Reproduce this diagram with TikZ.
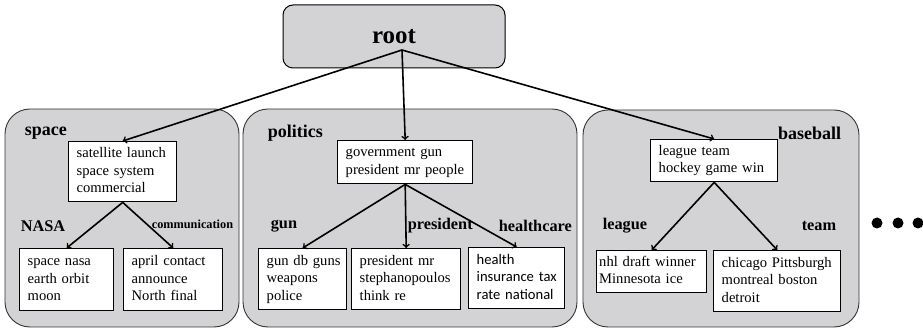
\documentclass[tikz,border=0pt]{standalone}
\usepackage{fontspec}
\setmainfont{Liberation Serif}
\newfontfamily\boxsans{Carlito}
\usetikzlibrary{arrows, positioning}

\definecolor{groupgray}{RGB}{211,210,212}
\newcommand{\wordlist}[1]{\begin{tabular}{@{}l@{}}#1\end{tabular}}

\begin{document}
\begin{tikzpicture}[x=1pt, y=-1pt, >=to, line width=1.6pt,
    group/.style={rounded corners=25pt, draw=black!80, fill=groupgray, line width=0.9pt},
    words/.style={rectangle, draw, fill=white, align=left, anchor=north west, inner xsep=8pt, inner ysep=0pt, line width=1.4pt, font=\fontsize{14.6}{17.5}\selectfont},
    tag/.style={anchor=west, inner sep=0pt, font=\bfseries\fontsize{18}{20}\selectfont},
    subtag/.style={tag, font=\bfseries\fontsize{16.3}{18}\selectfont}]
    \useasboundingbox (0,0) rectangle (923,328);

    % the three topic groups
    \draw [group] (5,109) rectangle (239,327);
    \draw [group] (243,109) rectangle (577,327);
    \draw [group] (583,110) rectangle (859,327);

    \node [rounded corners=10pt, draw, fill=groupgray, line width=1pt, minimum width=222pt, minimum height=63pt, font=\bfseries\fontsize{25}{28}\selectfont] (root) at (394,36.5) {root};
    \coordinate (rootc) at (402,50);

    % space
    \node [tag] (spacetag) at (24,133) {space};
    \node [words, text width=92pt, minimum height=60pt] (space) at (68,141) {\wordlist{satellite launch\\space system\\commercial}};
    \node [subtag] (nasatag) at (20,226) {NASA};
    \node [subtag, font=\bfseries\fontsize{12.3}{14}\selectfont] (commtag) at (151,224) {communication};
    \node [words, text width=78pt, minimum height=62pt] (nasa) at (19,248) {\wordlist{space nasa\\earth orbit\\moon}};
    \node [words, text width=83pt, minimum height=62pt] (comm) at (123,248) {\wordlist{april contact\\announce\\North final}};

    % politics
    \node [tag] (politicstag) at (267,133) {politics};
    \node [words, text width=119pt, minimum height=43pt] (politics) at (337,140) {\wordlist{government gun\\president mr people}};
    \node [subtag] (guntag) at (270,226) {gun};
    \node [subtag] (presidenttag) at (407,226) {president};
    \node [subtag] (healthtag) at (498,226) {healthcare};
    \node [words, text width=72pt, minimum height=61pt] (gun) at (258,248) {\wordlist{gun db guns\\weapons\\police}};
    \node [words, text width=93pt, minimum height=61pt] (president) at (351,248) {\wordlist{president mr\\stephanopoulos\\think re}};
    \node [words, text width=80pt, minimum height=61pt, font=\boxsans\fontsize{14.6}{17.5}\selectfont] (health) at (468,247) {\wordlist{health\\insurance tax\\rate national}};

    % baseball
    \node [tag, anchor=east] (baseballtag) at (842,133) {baseball};
    \node [words, text width=111pt, minimum height=42pt] (baseball) at (650,139) {\wordlist{league team\\hockey game win}};
    \node [subtag] (leaguetag) at (602,226) {league};
    \node [subtag, anchor=east] (teamtag) at (837,226) {team};
    \node [words, inner xsep=2.5pt, text width=105pt, minimum height=42pt] (league) at (596,250) {\wordlist{nhl draft winner\\Minnesota ice}};
    \node [words, text width=111pt, minimum height=61pt] (team) at (713,250) {\wordlist{chicago Pittsburgh\\montreal boston\\detroit}};

    % more topics
    \fill (877,223) circle (5.5pt);
    \fill (898,223) circle (5.5pt);
    \fill (918,223) circle (5.5pt);

    \path [->, draw] (rootc) -- (space.north);
    \path [->, draw] (rootc) -- (politics.north);
    \path [->, draw] (rootc) -- (baseball.north);
    \path [->, draw] (space.south) -- (nasa.north);
    \path [->, draw] (space.south) -- (comm.north);
    \path [->, draw] (politics.south) -- (gun.north);
    \path [->, draw] (politics.south) -- (president.north);
    \path [->, draw] (politics.south) -- (health.north);
    \path [->, draw] (baseball.south) -- (league.north);
    \path [->, draw] (baseball.south) -- (team.north);
\end{tikzpicture}
\end{document}
